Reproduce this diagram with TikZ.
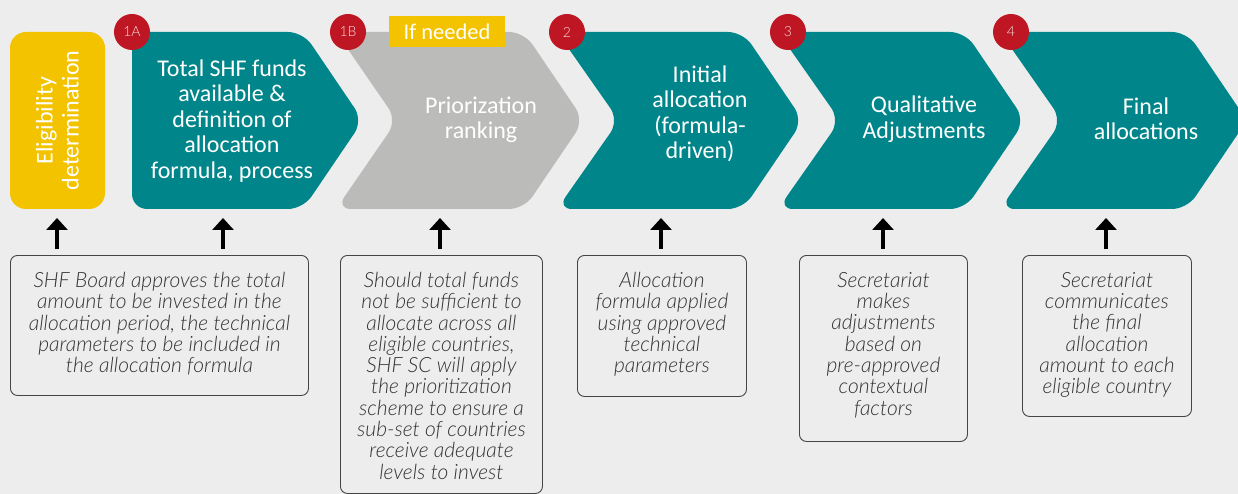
\documentclass[tikz,border=0pt]{standalone}
\usepackage{fontspec}
\setmainfont{Carlito}
\newfontfamily\descfont{Lato Light Italic}
\newfontfamily\badgefont{Lato Light}
\usetikzlibrary{arrows.meta}
\definecolor{bgc}{HTML}{EDEDED}
\definecolor{shfteal}{HTML}{00868A}
\definecolor{shfgray}{HTML}{BBBCBA}
\definecolor{shfyellow}{HTML}{F3C300}
\definecolor{shfred}{HTML}{BE1622}
\definecolor{desccol}{HTML}{333333}
\definecolor{boxline}{HTML}{454545}
\tikzset{
  chev/.style={rounded corners=15pt},
  chevtext/.style={text=white, font=\fontsize{24}{25.5}\selectfont, align=center, inner sep=0pt},
  badge/.style={circle, fill=shfred, minimum size=36pt, inner sep=0pt, text=white!85!shfred, font=\badgefont\fontsize{14}{14}\selectfont},
  descbox/.style={draw=boxline, line width=0.9pt, rounded corners=7pt, fill=bgc, inner sep=0pt, anchor=north west},
  desctext/.style={text=desccol, font=\descfont\fontsize{21}{21.3}\selectfont, align=center, inner sep=0pt, anchor=north},
  uparrow/.style={line width=4pt, -{Triangle[width=21pt,length=12pt]}, black}
}
\begin{document}
\begin{tikzpicture}[x=1pt,y=-1pt]
\fill[bgc] (0,0) rectangle (1238,494);
\useasboundingbox (0,0) rectangle (1238,494);
\clip (0,0) rectangle (1238,494);

% eligibility
\node[fill=shfyellow, rounded corners=16pt, minimum width=95pt, minimum height=177pt, inner sep=0pt] (elig) at (57.5,120.5) {};
\node[chevtext, rotate=90, font=\fontsize{24}{26}\selectfont] (eligt) at (elig.center) {Eligibility\\determination};

% chevron 1A
\fill[shfteal, chev] (132,120) -- (132,32) -- (303,32) -- (363,120.5) -- (303,209) -- (132,209) -- cycle;
% chevron 1B
\fill[shfgray, chev] (336,32) -- (524,32) -- (584,120.5) -- (524,209) -- (336,209) -- (397,120.5) -- cycle;
% chevron 2
\fill[shfteal, chev] (557,32) -- (743,32) -- (803,120.5) -- (743,209) -- (557,209) -- (619,120.5) -- cycle;
% chevron 3
\fill[shfteal, chev] (778,32) -- (965,32) -- (1025,120.5) -- (965,209) -- (778,209) -- (840,120.5) -- cycle;
% chevron 4
\fill[shfteal, chev] (1000,32) -- (1187,32) -- (1247,120.5) -- (1187,209) -- (1000,209) -- (1062,120.5) -- cycle;

\node[chevtext] (t1a) at (232,121) {Total SHF funds\\available \&\\definition of\\allocation\\formula, process};
\node[chevtext] (t1b) at (481,120) {Priorization\\ranking};
\node[chevtext] (t2) at (700,114) {Initial\\allocation\\(formula-\\driven)};
\node[chevtext] (t3) at (924,119) {Qualitative\\Adjustments};
\node[chevtext] (t4) at (1146,119) {Final\\allocations};

% badges
\node[badge] (b1a) at (132,32) {1A};
\node[badge] (b1b) at (348,32) {1B};
\node[badge] (b2) at (567,32) {2};
\node[badge] (b3) at (788,32) {3};
\node[badge] (b4) at (1011,32) {4};

\node[fill=shfyellow, minimum width=116pt, minimum height=31pt, inner sep=0pt, text=white, font=\fontsize{22.5}{22.5}\selectfont] (ifn) at (447,31.5) {If needed};

% description boxes
\node[descbox, minimum width=298pt, minimum height=140pt] (dA) at (10,255) {};
\node[descbox, minimum width=202pt, minimum height=238pt] (dB) at (340,255) {};
\node[descbox, minimum width=169pt, minimum height=141pt] (dC) at (577,255) {};
\node[descbox, minimum width=168pt, minimum height=186pt] (dD) at (799,255) {};
\node[descbox, minimum width=169pt, minimum height=161pt] (dE) at (1022,255) {};

\node[desctext] (xA) at ([yshift=-17pt]dA.north) {SHF Board approves the total\\amount to be invested in the\\allocation period, the technical\\parameters to be included in\\the allocation formula};
\node[desctext] (xB) at ([yshift=-17pt]dB.north) {Should total funds\\not be sufficient to\\allocate across all\\eligible countries,\\SHF SC will apply\\the prioritization\\scheme to ensure a\\sub-set of countries\\receive adequate\\levels to invest};
\node[desctext] (xC) at ([yshift=-17pt]dC.north) {Allocation\\formula applied\\using approved\\technical\\parameters};
\node[desctext] (xD) at ([yshift=-17pt]dD.north) {Secretariat\\makes\\adjustments\\based on\\pre-approved\\contextual\\factors};
\node[desctext] (xE) at ([yshift=-17pt]dE.north) {Secretariat\\communicates\\the final\\allocation\\amount to each\\eligible country};

% arrows
\coordinate (a1) at (57,249);
\coordinate (a2) at (223,249);
\coordinate (a3) at (440,249);
\coordinate (a4) at (661,249);
\coordinate (a5) at (883,249);
\coordinate (a6) at (1106,249);
\foreach \a in {a1,a2,a3,a4,a5,a6}{
  \draw[uparrow] (\a) -- ++(0,-31);
}
\end{tikzpicture}
\end{document}
